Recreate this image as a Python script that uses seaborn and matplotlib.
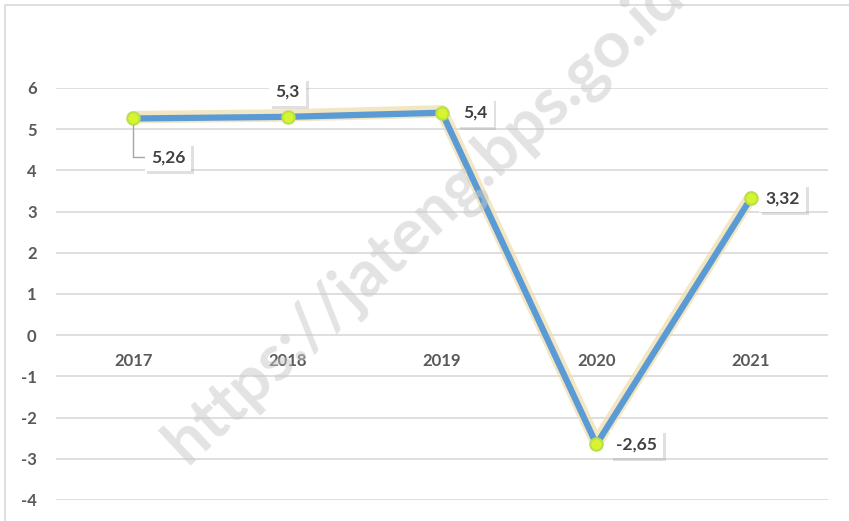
import matplotlib
matplotlib.use('Agg')
import matplotlib.pyplot as plt
import matplotlib.patheffects as pe
from matplotlib.patches import Rectangle
import seaborn as sns
import pandas as pd

# Data
years = ['2017', '2018', '2019', '2020', '2021']
growth = [5.26, 5.3, 5.4, -2.65, 3.32]
value_labels = ['5,26', '5,3', '5,4', '-2,65', '3,32']
# label offsets in points (dx, dy) relative to each point
label_offsets = [(25, -28), (0, 18), (24, 0), (29, 0), (23, 0)]

sns.set_style("white")
plt.rcParams['font.family'] = ['Lato', 'DejaVu Sans']
plt.rcParams['axes.unicode_minus'] = False

df = pd.DataFrame({'pos': range(len(years)), 'growth': growth})

fig = plt.figure(figsize=(8.49, 5.21), dpi=100)
ax = fig.add_axes([56 / 849, 21 / 521, 772 / 849, 412 / 521])

# chart frame
fig.patches.append(Rectangle((5 / 849, -0.1), 1.2, 1.1 - 5 / 521, transform=fig.transFigure,
                             fill=False, edgecolor='#d9d9d9', linewidth=1.2))

sns.lineplot(data=df, x='pos', y='growth', ax=ax, color='#5b9bd5', linewidth=4.5, zorder=3,
             path_effects=[pe.Stroke(linewidth=9, foreground='#eedcaa', alpha=0.7,
                                     offset=(0, 1)), pe.Normal()])
sns.scatterplot(data=df, x='pos', y='growth', ax=ax, s=80, color='#d7f431',
                edgecolor='#b9e04a', linewidth=1.5, zorder=4)

ax.set_xlim(-0.5, len(years) - 0.5)
ax.set_ylim(-4, 6)
ax.set_yticks(range(-4, 7))
ax.set_xticks([])
ax.set_xlabel('')
ax.set_ylabel('')
ax.yaxis.grid(True, color='#d9d9d9', linewidth=1.2)
ax.set_axisbelow(True)
for s in ax.spines.values():
    s.set_visible(False)
ax.tick_params(axis='y', length=0, pad=14, labelsize=12, labelcolor='#595959')
for t in ax.get_yticklabels():
    t.set_fontweight('bold')

# category labels next to the zero line
for i, yr in enumerate(years):
    ax.text(i, -0.63, yr, ha='center', va='center', fontsize=12, fontweight='bold', color='#595959')

# data labels
for i, (v, lab) in enumerate(zip(growth, value_labels)):
    dx, dy = label_offsets[i]
    kw = {}
    if i == 0:
        kw['arrowprops'] = dict(arrowstyle='-', color='#a6a6a6', lw=1,
                                connectionstyle='angle,angleA=0,angleB=90,rad=0',
                                shrinkA=0, shrinkB=5)
    t = ax.annotate(lab, xy=(i, v), xytext=(dx, dy), textcoords='offset points',
                    ha='center', va='center', fontsize=12.5, fontweight='bold', color='#404040',
                    bbox=dict(boxstyle='square,pad=0.35', facecolor='white', edgecolor='none'),
                    zorder=5, **kw)
    t.get_bbox_patch().set_path_effects([
        pe.withSimplePatchShadow(offset=(2, -2), shadow_rgbFace='#9a9a9a', alpha=0.3),
        pe.Normal()])

# watermark (runs off the top edge, as in the source image)
fig.text(425 / 849, 1 - 220 / 521, 'https://jateng.bps.go.id', rotation=43,
         ha='center', va='center', fontsize=47, fontweight='bold', color='#c8c8c8', alpha=0.5,
         zorder=10)

fig.savefig('out.png', dpi=100)
